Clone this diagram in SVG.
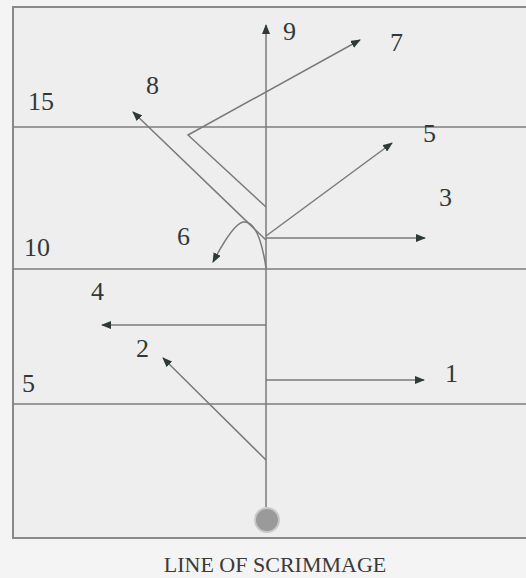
<svg xmlns="http://www.w3.org/2000/svg" width="526" height="578" viewBox="0 0 526 578">
<defs>
<marker id="ah" markerWidth="10" markerHeight="8" refX="9" refY="4" orient="auto" markerUnits="userSpaceOnUse">
<path d="M0,0 L10,4 L0,8 Z" fill="#2f3a38"/>
</marker>
</defs>
<style>
.field{fill:#eeeeee;stroke:#8a8a8a;stroke-width:2}
.yard{stroke:#7e7e7e;stroke-width:1.6;fill:none}
.route{stroke:#7a7a7a;stroke-width:1.5;fill:none}
.arr{marker-end:url(#ah)}
.num{font-family:"Liberation Serif",serif;font-size:26px;fill:#2f3a38}
.cap{font-family:"Liberation Serif",serif;font-size:22px;fill:#3a3a3a}
</style>
<rect x="0" y="0" width="526" height="578" fill="#f4f4f4"/>
<rect class="field" x="13" y="7" width="520" height="531"/>
<g id="yardlines">
<line class="yard" x1="13" y1="127" x2="526" y2="127"/>
<line class="yard" x1="13" y1="269" x2="526" y2="269"/>
<line class="yard" x1="13" y1="404" x2="526" y2="404"/>
</g>
<g id="connectors">
<line class="route arr" x1="266" y1="507" x2="266" y2="25"/>
<polyline class="route arr" points="266,207 188,135 360,40"/>
<line class="route arr" x1="266" y1="240" x2="133" y2="112"/>
<line class="route arr" x1="266" y1="236" x2="392" y2="143"/>
<line class="route arr" x1="266" y1="238" x2="425" y2="238"/>
<path class="route arr" d="M266,268 Q259,220 243,222 Q233,224 213,262"/>
<line class="route arr" x1="266" y1="325" x2="102" y2="325"/>
<line class="route arr" x1="266" y1="380" x2="424" y2="380"/>
<line class="route arr" x1="266" y1="460" x2="163" y2="358"/>
</g>
<g id="ball"><circle cx="267" cy="520" r="12" fill="#9a9a9a" stroke="#c8c8c8" stroke-width="2"/></g>
<g id="labels">
<text class="num" x="283" y="40">9</text>
<text class="num" x="390" y="51">7</text>
<text class="num" x="146" y="94">8</text>
<text class="num" x="28" y="110">15</text>
<text class="num" x="423" y="142">5</text>
<text class="num" x="439" y="206">3</text>
<text class="num" x="177" y="245">6</text>
<text class="num" x="24" y="256">10</text>
<text class="num" x="91" y="300">4</text>
<text class="num" x="136" y="357">2</text>
<text class="num" x="445" y="382">1</text>
<text class="num" x="22" y="392">5</text>
</g>
<text class="cap" x="275" y="572" text-anchor="middle">LINE OF SCRIMMAGE</text>
</svg>
